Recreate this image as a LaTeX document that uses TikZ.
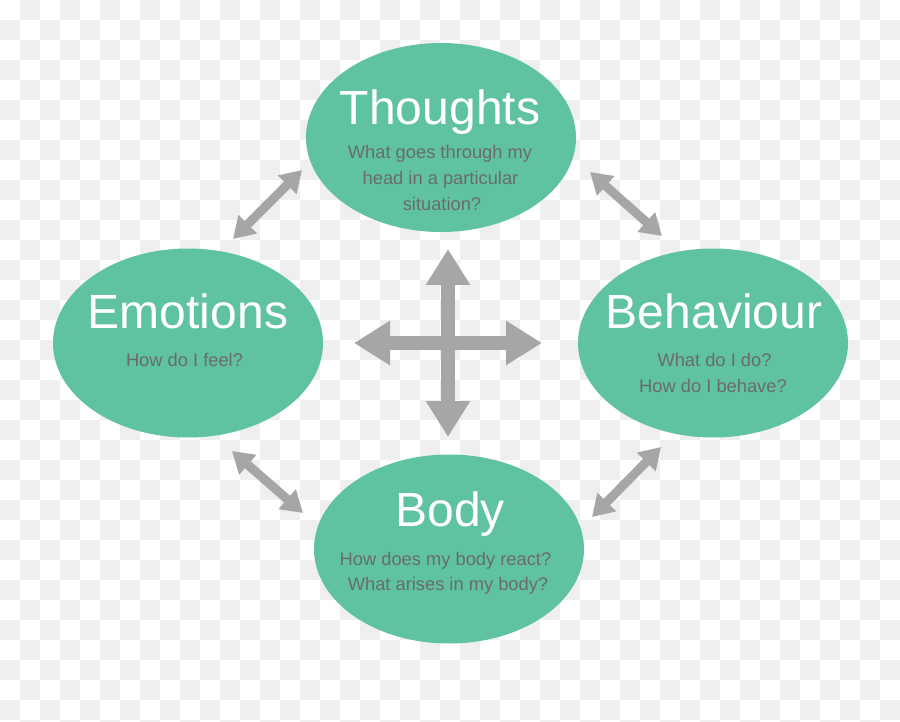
\documentclass[tikz,border=0pt]{standalone}
\usepackage{fontspec}
\setmainfont{Liberation Sans}
\usetikzlibrary{shapes.geometric,arrows.meta}
\definecolor{blobgreen}{HTML}{5FC3A0}
\definecolor{subgray}{HTML}{6B6B6B}
\definecolor{arrowgray}{HTML}{A6A6A6}
\definecolor{checkgray}{HTML}{EFEFEF}
\tikzset{
  blob/.style={ellipse, fill=blobgreen, draw=none, inner sep=0pt, minimum width=270pt, minimum height=189pt},
  titletext/.style={anchor=base, inner sep=0pt, text=white, font=\fontsize{48}{48}\selectfont},
  subtext/.style={anchor=base, inner sep=0pt, text=subgray, font=\fontsize{18.3}{22}\selectfont},
  bigarrow/.style={draw=arrowgray, line width=13.5pt, {Triangle[length=36pt,width=42pt]}-{Triangle[length=36pt,width=42pt]}},
  smallarrow/.style={draw=arrowgray, line width=9pt, {Triangle[length=21pt,width=25pt]}-{Triangle[length=21pt,width=25pt]}}
}
\begin{document}
\begin{tikzpicture}[x=1pt,y=-1pt]
\useasboundingbox (0,0) rectangle (900,722);
\begin{scope}
\clip (0,0) rectangle (900,722);
\fill[white] (0,0) rectangle (900,722);
\foreach \i in {0,...,44}{\foreach \j in {0,...,36}{\ifodd\numexpr\i+\j\relax \fill[checkgray] (\i*20,\j*20) rectangle ++(20,20);\fi}}
\end{scope}
% ellipses
\node[blob] (thoughts) at (441,137.5) {};
\node[blob] (emotions) at (188,343) {};
\node[blob] (behaviour) at (713,343) {};
\node[blob] (body) at (449,549) {};
% texts
\node[titletext] (thoughtsT) at (440,125) {Thoughts};
\node[subtext] (thoughtsA) at (440,159) {What goes through my};
\node[subtext] (thoughtsB) at (440.5,185) {head in a particular};
\node[subtext] (thoughtsC) at (442,210.5) {situation?};
\node[titletext] (emotionsT) at (188,328) {Emotions};
\node[subtext] (emotionsA) at (184.5,366) {How do I feel?};
\node[titletext] (behaviourT) at (714,328) {Behaviour};
\node[subtext] (behaviourA) at (714.5,366) {What do I do?};
\node[subtext] (behaviourB) at (713,392) {How do I behave?};
\node[titletext] (bodyT) at (450,526) {Body};
\node[subtext] (bodyA) at (445.5,565) {How does my body react?};
\node[subtext] (bodyB) at (448,590) {What arises in my body?};
% arrow end points
\coordinate (cU) at (448,249);
\coordinate (cD) at (448,437);
\coordinate (cL) at (354,343);
\coordinate (cR) at (542,343);
\coordinate (tlA) at (233,239);
\coordinate (tlB) at (302,170);
\coordinate (trA) at (590,172);
\coordinate (trB) at (662,236);
\coordinate (blA) at (232,451);
\coordinate (blB) at (303,513);
\coordinate (brA) at (592,517);
\coordinate (brB) at (661,447);
\draw[bigarrow] (cU) -- (cD);
\draw[bigarrow] (cL) -- (cR);
\draw[smallarrow] (tlA) -- (tlB);
\draw[smallarrow] (trA) -- (trB);
\draw[smallarrow] (blA) -- (blB);
\draw[smallarrow] (brA) -- (brB);
\end{tikzpicture}
\end{document}
